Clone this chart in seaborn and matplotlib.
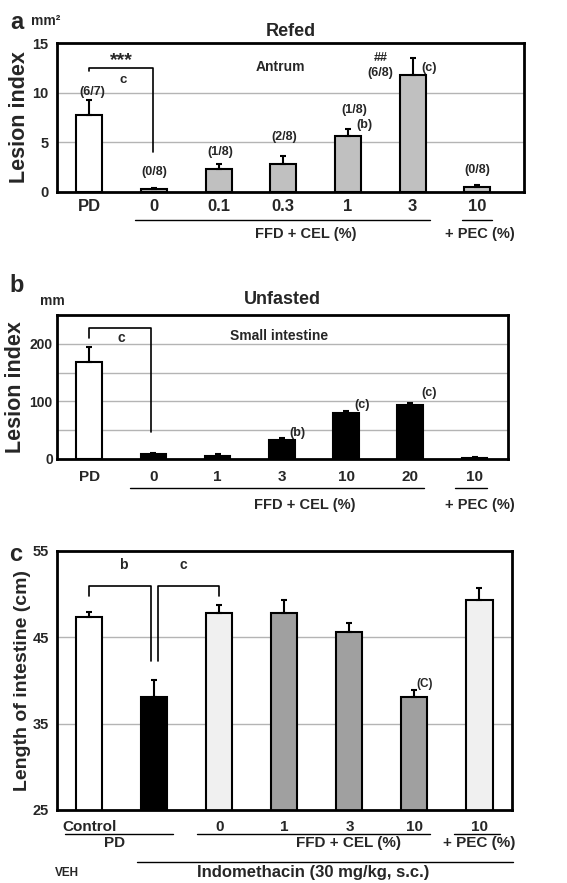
import numpy as np
import pandas as pd
import seaborn as sns
from matplotlib import pyplot as plt
from matplotlib import transforms

# panel a - refed, antrum
a_labels = ["PD", "0", "0.1", "0.3", "1", "3", "10"]
a_vals = [7.7, 0.25, 2.3, 2.85, 5.6, 11.75, 0.5]
a_err = [1.6, 0.1, 0.5, 0.8, 0.7, 1.75, 0.25]
a_ratio = ["(6/7)", "(0/8)", "(1/8)", "(2/8)", "(1/8)", "(6/8)", "(0/8)"]
a_colors = ["white", "#c0c0c0", "#c0c0c0", "#c0c0c0", "#c0c0c0", "#c0c0c0", "#c8c8c8"]

# panel b - unfasted, small intestine
b_labels = ["PD", "0", "1", "3", "10", "20", "10"]
b_vals = [168, 8, 6, 33, 79, 94, 2]
b_err = [26, 2, 2, 4, 5, 4, 1]
b_colors = ["white", "black", "black", "black", "black", "black", "black"]

# panel c - length of intestine
c_labels = ["Control", "", "0", "1", "3", "10", "10"]
c_vals = [47.3, 38.1, 47.8, 47.8, 45.6, 38.1, 49.3]
c_err = [0.6, 2.0, 0.9, 1.5, 1.1, 0.8, 1.4]
c_colors = ["white", "black", "#f0f0f0", "#a0a0a0", "#a0a0a0", "#a0a0a0", "#f0f0f0"]

sns.set_style("white")
plt.rcParams['font.family'] = ['Liberation Sans', 'DejaVu Sans']
plt.rcParams['font.weight'] = 'bold'

fig = plt.figure(figsize=(5.67, 8.83), dpi=100)
ax_a = fig.add_axes([0.1005, 0.7826, 0.8236, 0.1687])
ax_b = fig.add_axes([0.1005, 0.4802, 0.7954, 0.1631])
ax_c = fig.add_axes([0.1005, 0.0827, 0.8025, 0.2933])


def bars(ax, labels, vals, errs, colors, ylim, yticks, grid, xlim, tick_fs, xpad, ypad, yfs=10.5):
    keys = [f"k{i}" for i in range(len(vals))]
    df = pd.DataFrame({"key": keys, "val": vals})
    sns.barplot(data=df, x="key", y="val", hue="key", palette=dict(zip(keys, colors)),
                legend=False, width=0.4, edgecolor="black", linewidth=1.5,
                errorbar=None, ax=ax, zorder=2)
    ax.errorbar(np.arange(len(vals)), vals, yerr=[np.zeros(len(vals)), errs], fmt="none",
                ecolor="black", elinewidth=1.5, capsize=2, capthick=1.5, zorder=3)
    for g in grid:
        ax.axhline(g, color="#b4b4b4", lw=1, zorder=0)
    ax.set_ylim(*ylim)
    ax.set_xlim(*xlim)
    ax.set_yticks(yticks)
    ax.set_yticklabels([str(t) for t in yticks], fontsize=yfs, fontweight="bold")
    ax.set_xticks(range(len(labels)))
    ax.set_xticklabels(labels, fontsize=tick_fs, fontweight="bold")
    ax.tick_params(axis="y", length=0, pad=ypad)
    ax.tick_params(axis="x", length=0, pad=xpad)
    ax.set_xlabel("")
    for s in ax.spines.values():
        s.set_linewidth(2)
        s.set_color("black")


def hline(ax, x0, x1, y):
    tr = transforms.blended_transform_factory(ax.transData, ax.transAxes)
    ax.plot([x0, x1], [y, y], color="black", lw=1, transform=tr, clip_on=False)


def label(ax, x, y, s, fs=10.5):
    tr = transforms.blended_transform_factory(ax.transData, ax.transAxes)
    ax.text(x, y, s, transform=tr, ha="center", va="center", fontsize=fs, fontweight="bold")


def bracket(ax, x0, x1, y, y0, y1):
    ax.plot([x0, x0, x1, x1], [y0, y, y, y1], color="black", lw=1.2, zorder=4)


# ---- a
bars(ax_a, a_labels, a_vals, a_err, a_colors, (0, 15), [0, 5, 10, 15], [5, 10], (-0.5, 6.72), 12, 5, 6)
ax_a.set_ylabel("Lesion index", fontsize=15.5, fontweight="bold")
ax_a.yaxis.set_label_coords(-0.058, 0.5)
ax_a.set_title("Refed", fontsize=13, fontweight="bold", pad=5)
bracket(ax_a, 0, 0.98, 12.5, 12.2, 4.0)
ax_a.text(0.5, 13.2, "***", ha="center", va="center", fontsize=14, fontweight="bold")
ax_a.text(0.52, 11.3, "c", ha="center", va="center", fontsize=9.5, fontweight="bold")
ax_a.text(2.95, 12.6, "Antrum", ha="center", va="center", fontsize=10, fontweight="bold")
ratio_y = [10.1, 2.0, 4.0, 5.5, 8.3, 12.0, 2.2]
ratio_x = [0.05, 0, 0.02, 0.02, 0.1, -0.5, 0]
for i, (r, yy) in enumerate(zip(a_ratio, ratio_y)):
    ax_a.text(i + ratio_x[i], yy, r, ha="center", va="center", fontsize=9, fontweight="bold")
ax_a.text(4.5, 13.5, "##", ha="center", va="center", fontsize=9, fontweight="bold")
ax_a.text(5.25, 12.5, "(c)", ha="center", va="center", fontsize=9, fontweight="bold")
ax_a.text(4.25, 6.7, "(b)", ha="center", va="center", fontsize=9, fontweight="bold")
hline(ax_a, 0.71, 5.27, -0.188)
hline(ax_a, 5.76, 6.22, -0.188)
label(ax_a, 3.35, -0.28, "FFD + CEL (%)")
label(ax_a, 6.04, -0.28, "+ PEC (%)")

# ---- b
bars(ax_b, b_labels, b_vals, b_err, b_colors, (0, 250), [0, 100, 200], [50, 100, 150, 200], (-0.5, 6.52), 11, 8, 3, yfs=10)
ax_b.set_ylabel("Lesion index", fontsize=15.5, fontweight="bold")
ax_b.yaxis.set_label_coords(-0.068, 0.5)
ax_b.set_title("Unfasted", fontsize=13, fontweight="bold", pad=8)
bracket(ax_b, 0, 0.96, 228, 210, 47)
ax_b.text(0.5, 210, "c", ha="center", va="center", fontsize=10, fontweight="bold")
ax_b.text(2.95, 214, "Small intestine", ha="center", va="center", fontsize=10, fontweight="bold")
ax_b.text(3.25, 45, "(b)", ha="center", va="center", fontsize=9, fontweight="bold")
ax_b.text(4.25, 93, "(c)", ha="center", va="center", fontsize=9, fontweight="bold")
ax_b.text(5.3, 114, "(c)", ha="center", va="center", fontsize=9, fontweight="bold")
hline(ax_b, 0.64, 5.22, -0.20)
hline(ax_b, 5.69, 6.19, -0.20)
label(ax_b, 3.36, -0.32, "FFD + CEL (%)")
label(ax_b, 6.08, -0.32, "+ PEC (%)")

# ---- c
bars(ax_c, c_labels, c_vals, c_err, c_colors, (25, 55), [25, 35, 45, 55], [35, 45], (-0.5, 6.5), 11, 7, 6)
ax_c.set_ylabel("Length of intestine (cm)", fontsize=14, fontweight="bold")
ax_c.yaxis.set_label_coords(-0.058, 0.5)
bracket(ax_c, 0, 0.95, 50.9, 49.8, 42.2)
bracket(ax_c, 1.05, 2.0, 50.9, 42.2, 49.8)
ax_c.text(0.52, 53.4, "b", ha="center", va="center", fontsize=10, fontweight="bold")
ax_c.text(1.45, 53.4, "c", ha="center", va="center", fontsize=10, fontweight="bold")
ax_c.text(5.15, 39.6, "(C)", ha="center", va="center", fontsize=8.5, fontweight="bold")
hline(ax_c, -0.38, 1.28, -0.093)
hline(ax_c, 1.65, 5.24, -0.093)
hline(ax_c, 5.61, 6.32, -0.093)
hline(ax_c, 0.73, 6.52, -0.20)
label(ax_c, 0.39, -0.127, "PD", fs=11)
label(ax_c, 3.98, -0.127, "FFD + CEL (%)", fs=11)
label(ax_c, 6.0, -0.127, "+ PEC (%)", fs=11)
label(ax_c, -0.35, -0.243, "VEH", fs=8.5)
label(ax_c, 3.44, -0.243, "Indomethacin (30 mg/kg, s.c.)", fs=12)

# panel letters and units
fig.text(0.018, 0.987, "a", fontsize=17, fontweight="bold", va="top")
fig.text(0.055, 0.976, "mm²", fontsize=10, fontweight="bold", va="center")
fig.text(0.016, 0.690, "b", fontsize=17, fontweight="bold", va="top")
fig.text(0.07, 0.659, "mm", fontsize=10, fontweight="bold", va="center")
fig.text(0.016, 0.385, "c", fontsize=17, fontweight="bold", va="top")

fig.savefig("out.png", dpi=100)
